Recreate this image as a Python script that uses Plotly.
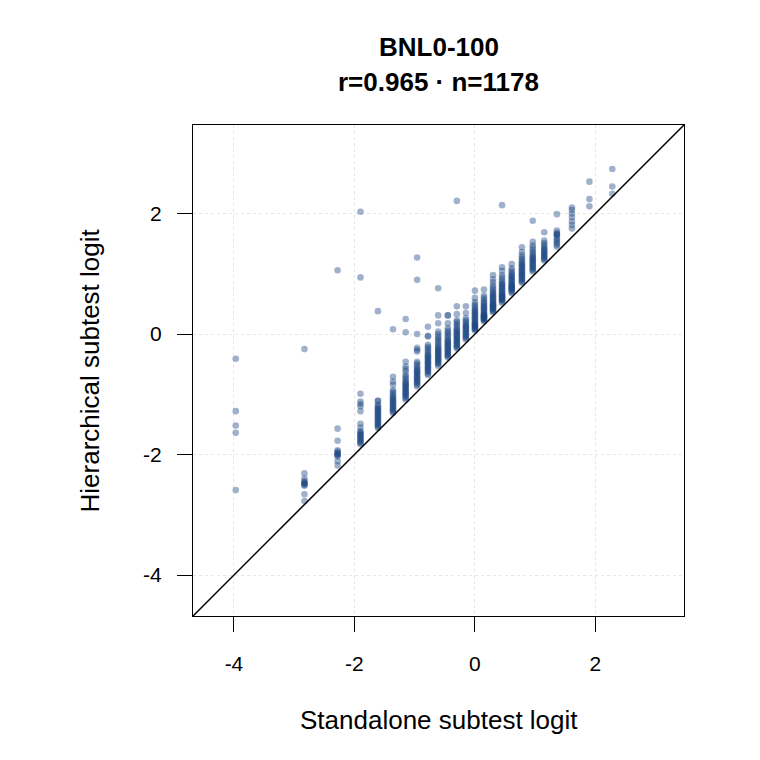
import plotly.graph_objects as go

# Standalone subtest logit (x) for each observed column
x_cols = [-3.97, -2.83, -2.28, -1.90, -1.61, -1.36, -1.15, -0.96, -0.78, -0.61,
          -0.45, -0.30, -0.15, 0.00, 0.15, 0.30, 0.45, 0.61, 0.78, 0.96,
          1.15, 1.36, 1.61, 1.90, 2.28]

# Hierarchical subtest logit (y) values read per column
col00 = [-0.41, -1.28, -1.52, -1.64, -2.59]
col01 = [-0.25, -2.31, -2.40, -2.44, -2.46, -2.48, -2.49, -2.50, -2.52, -2.66, -2.77]
col02 = [1.06, -1.57, -1.77, -1.93, -1.95, -1.97, -1.99, -2.00, -2.01, -2.03, -2.11, -2.18]
col03 = [2.03, 0.94, -0.99, -1.12, -1.16, -1.20, -1.28, -1.49, -1.55, -1.61, -1.63, -1.65,
         -1.67, -1.69, -1.71, -1.73, -1.75, -1.77, -1.79, -1.81, -1.83]
col04 = [0.38, -1.11, -1.11, -1.17, -1.20, -1.22, -1.24, -1.26, -1.28, -1.30, -1.32, -1.34,
         -1.36, -1.38, -1.40, -1.42, -1.44, -1.46, -1.48, -1.50, -1.52, -1.54, -1.56]
col05 = [0.08, -0.71, -0.79, -0.84, -0.93, -0.96, -0.99, -1.02, -1.05, -1.07, -1.09, -1.11,
         -1.13, -1.15, -1.17, -1.19, -1.21, -1.23, -1.25, -1.27, -1.29, -1.31]
col06 = [0.25, 0.03, -0.46, -0.54, -0.58, -0.62, -0.68, -0.71, -0.74, -0.77, -0.80, -0.82,
         -0.84, -0.86, -0.88, -0.90, -0.92, -0.94, -0.96, -0.98, -1.00, -1.02, -1.04, -1.06, -1.09]
col07 = [1.27, 0.90, 0.00, -0.23, -0.26, -0.29, -0.46, -0.49, -0.52, -0.55, -0.58, -0.60,
         -0.62, -0.64, -0.66, -0.68, -0.70, -0.72, -0.74, -0.76, -0.78, -0.80, -0.82, -0.84, -0.87]
col08 = [0.12, -0.03, -0.04, -0.18, -0.21, -0.24, -0.27, -0.30, -0.33, -0.35, -0.37, -0.39,
         -0.41, -0.43, -0.45, -0.47, -0.49, -0.51, -0.53, -0.55, -0.57, -0.59, -0.61, -0.63, -0.66, -0.68]
col09 = [0.76, 0.31, 0.18, 0.04, 0.00, -0.04, -0.07, -0.10, -0.13, -0.16, -0.19, -0.22,
         -0.24, -0.26, -0.28, -0.30, -0.32, -0.34, -0.36, -0.38, -0.40, -0.42, -0.44, -0.46, -0.48, -0.50, -0.53]
col10 = [0.31, 0.31, 0.18, 0.10, 0.06, 0.03, 0.00, -0.03, -0.06, -0.09, -0.11, -0.13,
         -0.15, -0.17, -0.19, -0.21, -0.23, -0.25, -0.27, -0.29, -0.31, -0.33, -0.35, -0.37, -0.39]
col11 = [2.21, 0.46, 0.33, 0.23, 0.20, 0.17, 0.14, 0.11, 0.08, 0.06, 0.04, 0.02, 0.00,
         -0.02, -0.04, -0.06, -0.08, -0.10, -0.12, -0.14, -0.16, -0.18, -0.20, -0.22, -0.24]
col12 = [0.46, 0.35, 0.26, 0.23, 0.20, 0.17, 0.15, 0.13, 0.11, 0.09, 0.07, 0.05, 0.03,
         0.01, -0.01, -0.03, -0.05, -0.07, -0.09]
col13 = [0.72, 0.60, 0.53, 0.49, 0.46, 0.43, 0.40, 0.38, 0.36, 0.34, 0.32, 0.30, 0.28,
         0.26, 0.24, 0.22, 0.20, 0.18, 0.17, 0.16, 0.14, 0.13, 0.12, 0.10, 0.09, 0.08, 0.06]
col14 = [0.74, 0.64, 0.60, 0.57, 0.54, 0.51, 0.49, 0.47, 0.45, 0.43, 0.41, 0.39, 0.37,
         0.35, 0.33, 0.32, 0.31, 0.30, 0.29, 0.28, 0.27, 0.26, 0.25, 0.24, 0.23, 0.21]
col15 = [0.98, 0.91, 0.86, 0.81, 0.77, 0.74, 0.71, 0.68, 0.66, 0.64, 0.62, 0.60, 0.58,
         0.56, 0.54, 0.52, 0.50, 0.49, 0.48, 0.46, 0.45, 0.44, 0.42, 0.41, 0.40, 0.38, 0.36]
col16 = [2.14, 1.11, 1.05, 0.98, 0.94, 0.90, 0.87, 0.84, 0.82, 0.80, 0.78, 0.76, 0.74,
         0.72, 0.70, 0.68, 0.66, 0.65, 0.64, 0.62, 0.61, 0.60, 0.58, 0.57, 0.56, 0.54, 0.52]
col17 = [1.16, 1.09, 1.05, 1.02, 0.99, 0.97, 0.95, 0.93, 0.91, 0.89, 0.87, 0.85, 0.83,
         0.81, 0.80, 0.79, 0.77, 0.76, 0.75, 0.74, 0.72, 0.70, 0.68]
col18 = [1.44, 1.36, 1.31, 1.27, 1.24, 1.21, 1.18, 1.16, 1.14, 1.12, 1.10, 1.08, 1.06,
         1.04, 1.02, 1.00, 0.98, 0.97, 0.95, 0.93, 0.91, 0.89, 0.87, 0.85]
col19 = [1.88, 1.53, 1.47, 1.43, 1.39, 1.36, 1.33, 1.30, 1.28, 1.26, 1.24, 1.22, 1.20,
         1.18, 1.16, 1.14, 1.12, 1.10, 1.08, 1.06, 1.04]
col20 = [1.69, 1.55, 1.51, 1.48, 1.45, 1.42, 1.40, 1.38, 1.36, 1.34, 1.32, 1.30, 1.28, 1.26, 1.24, 1.22]
col21 = [1.99, 1.72, 1.68, 1.66, 1.65, 1.64, 1.60, 1.57, 1.54, 1.51, 1.48, 1.45]
col22 = [2.10, 2.06, 2.00, 1.94, 1.87, 1.81, 1.75]
col23 = [2.53, 2.24, 2.12]
col24 = [2.74, 2.45, 2.33]

y_cols = [col00, col01, col02, col03, col04, col05, col06, col07, col08, col09,
          col10, col11, col12, col13, col14, col15, col16, col17, col18, col19,
          col20, col21, col22, col23, col24]

tick_vals = [-4, -2, 0, 2]
tick_text = ["-4", "-2", "0", "2"]
axis_range = [-4.68, 3.47]
title_line1 = "BNL0-100"
title_line2 = "r=0.965 · n=1178"
x_title = "Standalone subtest logit"
y_title = "Hierarchical subtest logit"

xs, ys = [], []
for xv, col in zip(x_cols, y_cols):
    for yv in col:
        xs.append(xv)
        ys.append(yv)

FONT = "Liberation Sans, Arial, Helvetica, sans-serif"

fig = go.Figure()
fig.add_trace(go.Scatter(
    x=xs, y=ys, mode="markers",
    marker=dict(size=6.6, color="rgba(29,72,130,0.42)", line=dict(width=0)),
    hoverinfo="skip", showlegend=False,
))
fig.add_trace(go.Scatter(
    x=[axis_range[0] - 1, axis_range[1] + 1], y=[axis_range[0] - 1, axis_range[1] + 1],
    mode="lines", line=dict(color="black", width=1.5),
    hoverinfo="skip", showlegend=False,
))

axis_common = dict(
    range=axis_range, tickvals=tick_vals, ticktext=tick_text,
    showline=True, linecolor="black", linewidth=1, mirror=True,
    ticks="outside", ticklen=15, tickwidth=1, tickcolor="black",
    showgrid=True, gridcolor="#e6e6e6", gridwidth=1, griddash="3px,3px",
    zeroline=False, tickfont=dict(family=FONT, size=21, color="black"),
)
fig.update_xaxes(**axis_common, ticklabelstandoff=14)
fig.update_yaxes(**axis_common, ticklabelstandoff=11)

fig.update_layout(
    width=760, height=760,
    margin=dict(l=193, r=76, t=125, b=144, pad=0),
    paper_bgcolor="white", plot_bgcolor="white",
    font=dict(family=FONT, color="black"),
    annotations=[
        dict(text=f"<b>{title_line1}</b>", xref="paper", yref="paper", x=0.5, y=1,
             xanchor="center", yanchor="middle", yshift=78, showarrow=False,
             font=dict(family=FONT, size=26, color="black")),
        dict(text=f"<b>{title_line2}</b>", xref="paper", yref="paper", x=0.5, y=1,
             xanchor="center", yanchor="middle", yshift=43, showarrow=False,
             font=dict(family=FONT, size=26, color="black")),
        dict(text=x_title, xref="paper", yref="paper", x=0.5, y=0,
             xanchor="center", yanchor="middle", yshift=-104, showarrow=False,
             font=dict(family=FONT, size=26, color="black")),
        dict(text=y_title, xref="paper", yref="paper", x=0, y=0.5, textangle=-90,
             xanchor="center", yanchor="middle", xshift=-104, showarrow=False,
             font=dict(family=FONT, size=26, color="black")),
    ],
)

fig.write_html("out.html")
